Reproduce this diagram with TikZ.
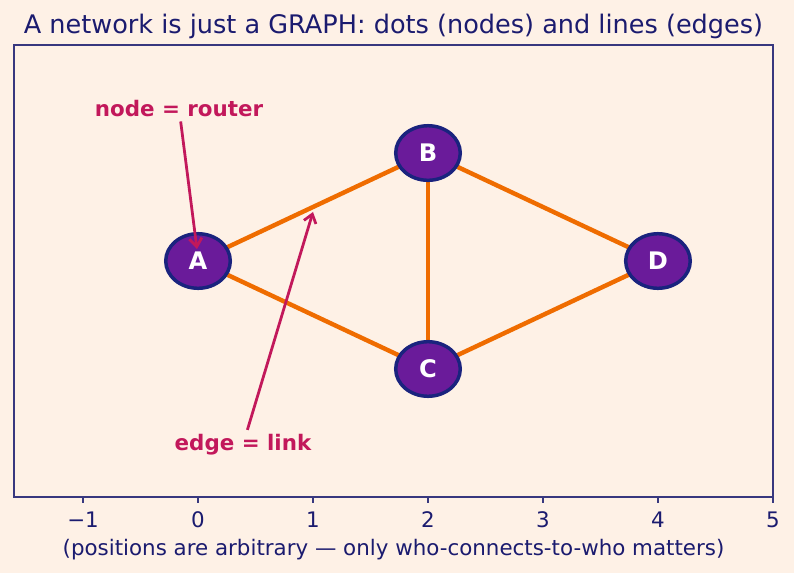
\documentclass[tikz,border=0pt]{standalone}
\usepackage{fontspec}
\setmainfont{DejaVu Sans}
\usetikzlibrary{arrows.meta,backgrounds,shapes.geometric}
\definecolor{Ink}{HTML}{1B1B6F}
\definecolor{Spine}{HTML}{38387F}
\definecolor{Paper}{HTML}{FEF1E6}
\definecolor{Grape}{HTML}{6A1B9A}
\definecolor{Navy}{HTML}{1A237E}
\definecolor{Carrot}{HTML}{EF6C00}
\definecolor{Berry}{HTML}{C2185B}
\tikzset{
  router/.style={
    ellipse, draw=Navy, line width=2.5pt, fill=Grape, text=white,
    minimum width=46.5pt, minimum height=39.3pt, inner sep=0pt,
    font=\fontsize{17.4}{19}\selectfont\bfseries
  },
  link/.style={draw=Carrot, line width=3.2pt},
  note/.style={text=Berry, inner sep=0pt, font=\fontsize{15.4}{17}\selectfont\bfseries},
  pointer/.style={-{Straight Barb[length=6pt,width=9pt]}, line width=2pt, draw=Berry},
  ticklabel/.style={text=Ink, anchor=base, inner sep=0pt, font=\fontsize{15.4}{17}\selectfont}
}

\begin{document}
\begin{tikzpicture}[x=82.8pt,y=77.76pt]
    \useasboundingbox (-1.722,-2.889) rectangle (5.183,2.417);
    \node[router] (A) at (0,0) {A}; \node[router] (B) at (2,1) {B};
    \node[router] (C) at (2,-1) {C}; \node[router] (D) at (4,0) {D};
    \begin{scope}[on background layer]
      \fill[Paper] (-1.722,-2.889) rectangle (5.183,2.417);
      \draw[link] (A.center) -- (B.center); \draw[link] (A.center) -- (C.center);
      \draw[link] (B.center) -- (C.center); \draw[link] (B.center) -- (D.center);
      \draw[link] (C.center) -- (D.center);
    \end{scope}

    % axes frame and ticks
    \draw[Spine, line width=1.1pt] (-1.6,-2.185) rectangle (5,2);
    \foreach \x/\lab in {-1/−1,0/0,1/1,2/2,3/3,4/4,5/5}
      \draw[Spine, line width=1.1pt] (\x,-2.185) -- ++(0,-4pt) node[ticklabel] (tick\x) at (\x,-2.472) {\lab};

    \node[anchor=base, text=Ink, font=\fontsize{18.4}{20}\selectfont] (title) at (1.7,2.111)
      {A network is just a GRAPH: dots (nodes) and lines (edges)};
    \node[anchor=base, text=Ink, font=\fontsize{15.4}{17}\selectfont] (xlab) at (1.7,-2.73)
      {(positions are arbitrary — only who-connects-to-who matters)};

    % annotations
    \node[note] (nrouter) at (-0.165,1.41) {node = router};
    \node[note] (nlink) at (0.391,-1.70) {edge = link};
    \coordinate (pinA) at (-0.009,0.111); \coordinate (pinAB) at (1.0,0.454);
    \draw[pointer, shorten <=3pt] (nrouter) -- (pinA);
    \draw[pointer, shorten <=3pt] (nlink) -- (pinAB);
  \end{tikzpicture}
\end{document}
